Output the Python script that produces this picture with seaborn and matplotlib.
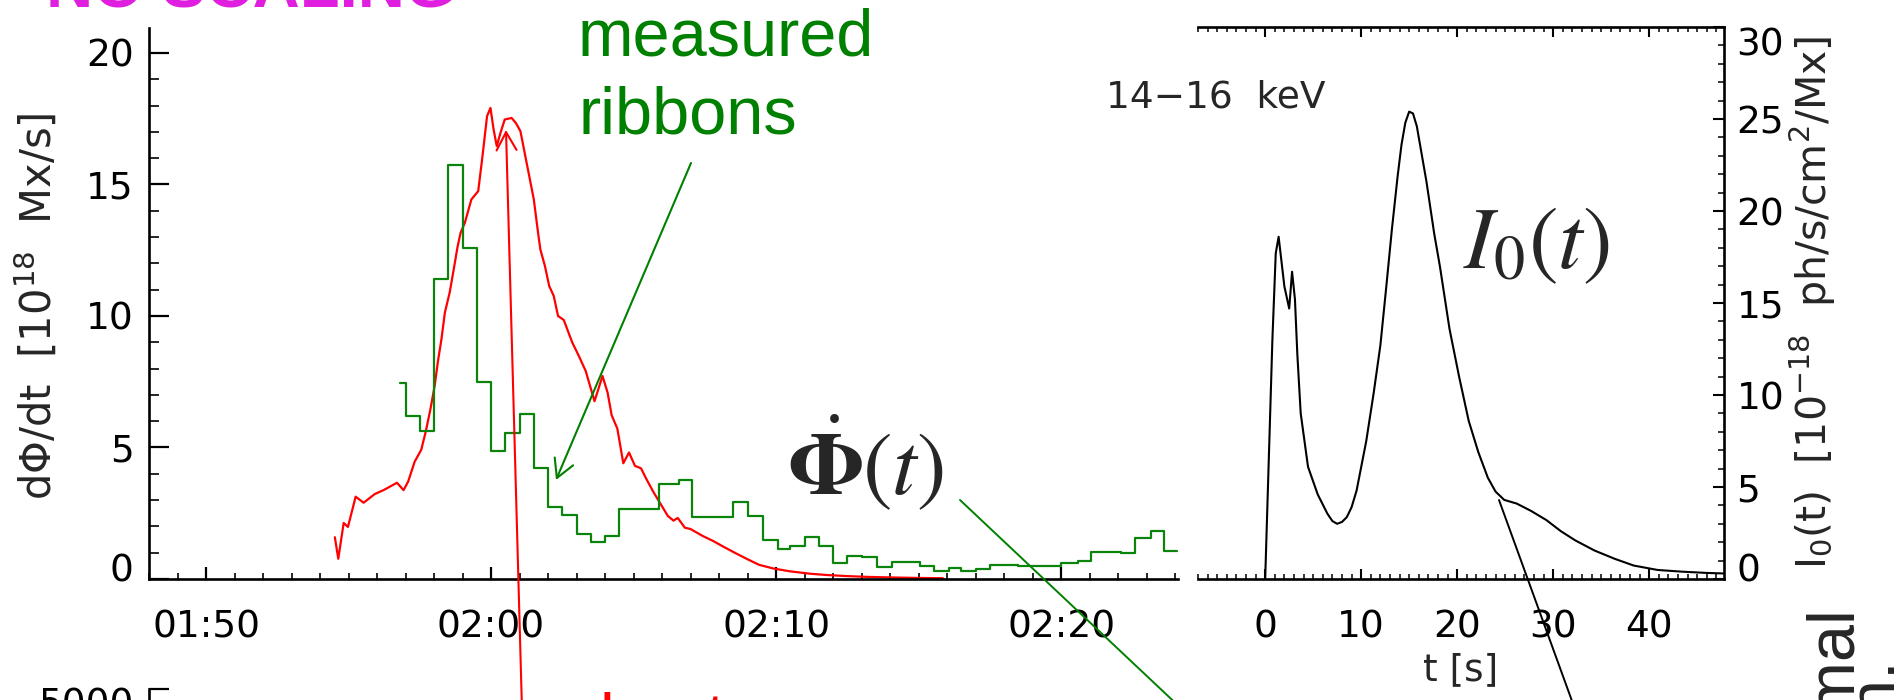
import matplotlib
matplotlib.use("Agg")
import matplotlib.pyplot as plt
import seaborn as sns
import numpy as np
import pandas as pd
from matplotlib.ticker import MultipleLocator, FixedLocator, NullLocator
from matplotlib.patches import FancyArrowPatch
from matplotlib.lines import Line2D
from matplotlib.transforms import ScaledTranslation

# ---------------- data ----------------
# left panel, time in minutes after 01:50 UT
flux_time = [4.52, 4.64, 4.83, 4.98, 5.25, 5.53, 5.92, 6.23, 6.70, 6.93, 7.09, 7.32, 7.55,
             7.71, 7.87, 8.02, 8.14, 8.26, 8.38, 8.55, 8.69, 8.82, 8.93, 9.08, 9.31, 9.55,
             9.70, 9.86, 9.98, 10.09, 10.20, 10.33, 10.48, 10.72, 10.87, 11.03, 11.18, 11.34,
             11.50, 11.65, 11.73, 11.89, 12.04, 12.20, 12.35, 12.55, 12.85, 13.08, 13.32,
             13.63, 13.91, 14.09, 14.23, 14.43, 14.64, 14.84, 15.05, 15.26, 15.45, 15.70,
             15.95, 16.20, 16.40, 16.55, 16.80, 17.00, 17.40, 17.80, 18.20, 18.60, 19.00,
             19.40, 19.90, 20.50, 21.20, 21.80, 22.50, 23.20, 24.00, 25.00, 25.85]
flux_rate = [1.59, 0.77, 2.13, 1.98, 3.13, 2.90, 3.23, 3.38, 3.66, 3.38, 3.70, 4.46, 4.91,
             5.61, 6.44, 7.33, 8.30, 9.12, 10.13, 10.90, 11.77, 12.60, 13.16, 13.54, 14.43, 14.75,
             16.08, 17.60, 17.91, 17.09, 16.46, 16.96, 17.47, 17.53, 17.34, 17.03, 16.20, 15.32,
             14.43, 13.16, 12.53, 11.90, 11.14, 10.76, 10.00, 9.85, 8.99, 8.48, 7.91,
             6.76, 7.72, 7.08, 6.23, 5.72, 4.40, 4.81, 4.30, 4.21, 3.80, 3.30,
             2.85, 2.40, 2.22, 2.32, 1.95, 1.90, 1.65, 1.44, 1.20, 0.97, 0.75,
             0.54, 0.40, 0.29, 0.20, 0.15, 0.11, 0.08, 0.06, 0.04, 0.03]

ribbon_edges = [6.8, 7.0, 7.5, 8.0, 8.5, 9.0, 9.5, 10.0, 10.5, 11.0, 11.5, 12.0, 12.5, 13.0,
                13.5, 14.0, 14.5, 15.9, 16.6, 17.05, 18.5, 19.0, 19.55, 20.05, 20.5, 21.0,
                21.5, 22.0, 22.5, 23.0, 23.55, 24.05, 25.05, 25.55, 26.05, 26.5, 27.0, 27.5,
                28.5, 30.0, 30.6, 31.05, 32.1, 32.6, 33.15, 33.6, 34.05]
ribbon_rate = [7.44, 6.21, 5.61, 11.39, 15.76, 12.59, 7.49, 4.87, 5.55, 6.29, 4.23, 2.74,
               2.42, 1.72, 1.40, 1.62, 2.68, 3.60, 3.78, 2.36, 2.92, 2.38, 1.48, 1.14, 1.27,
               1.61, 1.27, 0.59, 0.88, 0.83, 0.46, 0.64, 0.49, 0.32, 0.42, 0.32, 0.37, 0.54,
               0.49, 0.59, 0.68, 1.02, 0.97, 1.56, 1.82, 1.05]

time_ticks = [0, 10, 20, 30]
time_labels = ["01:50", "02:00", "02:10", "02:20"]
flux_ticks = [0, 5, 10, 15, 20]

# right panel
hxr_t = [0.0, 0.75, 1.1, 1.4, 2.0, 2.5, 2.8, 3.1, 3.35, 3.7, 4.46, 5.47, 6.48, 7.0, 7.49,
         8.0, 8.5, 9.0, 9.52, 10.53, 11.3, 12.0, 12.6, 13.2, 13.8, 14.2, 14.6, 15.0, 15.4,
         15.8, 16.2, 16.8, 17.6, 18.2, 19.2, 20.2, 21.2, 22.2, 23.2, 24.0, 24.9, 26.2,
         27.7, 29.3, 30.8, 32.3, 34.3, 36.4, 38.4, 40.9, 43.4, 46.0, 47.8]
hxr_I0 = [0.0, 13.0, 17.7, 18.6, 15.9, 14.7, 16.7, 15.2, 12.2, 9.0, 6.1, 4.6, 3.55, 3.15, 3.0,
          3.1, 3.36, 3.9, 4.8, 7.5, 10.1, 12.7, 15.8, 19.0, 21.9, 23.6, 24.8, 25.4, 25.3,
          24.6, 23.4, 21.6, 18.8, 17.0, 13.6, 11.0, 8.6, 6.9, 5.5, 4.75, 4.3, 4.1,
          3.7, 3.2, 2.6, 2.1, 1.55, 1.1, 0.73, 0.49, 0.40, 0.33, 0.30]
t_ticks = [0, 10, 20, 30, 40]
hxr_ticks = [0, 5, 10, 15, 20, 25, 30]

# ---------------- style ----------------
sns.set_theme(style="ticks")
plt.rcParams["font.family"] = ["DejaVu Sans"]
plt.rcParams["mathtext.fontset"] = "dejavusans"

W, H = 1894, 700
fig = plt.figure(figsize=(W / 100, H / 100), dpi=100)
fig.patch.set_facecolor("white")


def box(l, t, r, b):
    return [l / W, 1 - b / H, (r - l) / W, (b - t) / H]


def fp(x, y):
    return (x / W, 1 - y / H)


ax1 = fig.add_axes(box(149, 28, 1178, 579))
ax2 = fig.add_axes(box(1198, 27, 1724, 579))
ax3 = fig.add_axes(box(149, 689, 1178, 1240))
for ax in (ax1, ax2, ax3):
    ax.patch.set_visible(False)

RED = "#ff0000"
GREEN = "#0a840a"
LW = 1.6

# ---- left panel ----
sns.lineplot(x=flux_time, y=flux_rate, ax=ax1, color=RED, lw=LW, estimator=None, sort=False)
sns.lineplot(x=ribbon_edges, y=ribbon_rate + [ribbon_rate[-1]], ax=ax1, color=GREEN, lw=LW,
             estimator=None, sort=False, drawstyle="steps-post")
ax1.set_xlim(-2.0, 34.1)
ax1.set_ylim(0, 20.95)
ax1.xaxis.set_major_locator(FixedLocator(time_ticks))
ax1.set_xticklabels(time_labels)
ax1.xaxis.set_minor_locator(MultipleLocator(1))
ax1.yaxis.set_major_locator(FixedLocator(flux_ticks))
ax1.yaxis.set_minor_locator(MultipleLocator(1))
ax1.set_xlabel("")
ax1.set_ylabel("")
for s in ("top", "right"):
    ax1.spines[s].set_visible(False)
for s in ("left", "bottom"):
    ax1.spines[s].set_linewidth(1.9)
    ax1.spines[s].set_color("black")
ax1.tick_params(axis="y", which="major", direction="in", length=14.4, width=1.6,
                labelsize=27, pad=11, left=True, right=False, colors="black")
ax1.tick_params(axis="y", which="minor", direction="in", length=7.2, width=1.4, left=True, right=False)
ax1.tick_params(axis="x", which="major", direction="in", length=8.6, width=1.6,
                labelsize=27, pad=22, bottom=True, top=False, colors="black")
ax1.tick_params(axis="x", which="minor", direction="in", length=4.3, width=1.4, bottom=True, top=False)

# ---- right panel ----
sns.lineplot(x=hxr_t, y=hxr_I0, ax=ax2, color="black", lw=1.5, estimator=None, sort=False)
ax2.set_xlim(-7.0, 47.8)
ax2.set_ylim(0, 30)
ax2.xaxis.set_major_locator(FixedLocator(t_ticks))
ax2.xaxis.set_minor_locator(MultipleLocator(1))
ax2.yaxis.set_major_locator(FixedLocator(hxr_ticks))
ax2.yaxis.set_minor_locator(MultipleLocator(1))
ax2.set_xlabel("")
ax2.set_ylabel("")
ax2.spines["left"].set_visible(False)
for s in ("top", "bottom", "right"):
    ax2.spines[s].set_linewidth(1.9)
    ax2.spines[s].set_color("black")
ax2.yaxis.tick_right()
ax2.tick_params(axis="y", which="major", direction="in", length=8, width=1.5, labelsize=27,
                pad=9, left=False, right=True, labelleft=False, labelright=True, colors="black")
ax2.tick_params(axis="y", which="minor", direction="in", length=4.3, width=1.3, left=False, right=True)
ax2.tick_params(axis="x", which="major", direction="in", length=7, width=1.5, labelsize=27,
                pad=22, bottom=True, top=True, labeltop=False, colors="black")
ax2.tick_params(axis="x", which="minor", direction="in", length=3.6, width=1.3, bottom=True, top=True)

# ---- lower panel (only its top edge is visible) ----
ax3.set_xlim(-2.0, 34.1)
ax3.set_ylim(0, 5000)
ax3.yaxis.set_major_locator(FixedLocator([5000]))
ax3.yaxis.set_minor_locator(NullLocator())
ax3.xaxis.set_major_locator(NullLocator())
for s in ("top", "right", "bottom"):
    ax3.spines[s].set_visible(False)
ax3.spines["left"].set_linewidth(1.9)
ax3.spines["left"].set_color("black")
ax3.tick_params(axis="y", direction="in", length=14.4, width=1.6, labelsize=27, pad=11,
                colors="black")

# ---- axis labels ----
fig.text(*fp(37, 306), r"d$\Phi$/dt  [10$^{18}$  Mx/s]", rotation=90, fontsize=30,
         ha="center", va="center")
fig.text(*fp(1813, 302), r"I$_{\mathrm{0}}$(t)  [10$^{-18}$  ph/s/cm$^{2}$/Mx]", rotation=90,
         fontsize=29.5, ha="center", va="center")
fig.text(*fp(1461, 670), "t [s]", fontsize=27, ha="center", va="center")
fig.text(*fp(1106, 107), "14\u221216  keV", fontsize=27, ha="left", va="baseline")

# ---- slide annotations ----
SANS = ["Liberation Sans", "DejaVu Sans"]
fig.text(*fp(46, 8), "NO SCALING", color="#e01ee0", fontsize=47, fontweight="bold",
         family=SANS, ha="left", va="baseline")
fig.text(*fp(578, 55), "measured", color="#008000", fontsize=48, family=SANS,
         ha="left", va="baseline")
fig.text(*fp(578, 133), "ribbons", color="#008000", fontsize=48, family=SANS,
         ha="left", va="baseline")
fig.text(*fp(788, 494), r"$\dot{\mathbf{\Phi}}(t)$", fontsize=64, math_fontfamily="stix",
         ha="left", va="baseline")
fig.text(*fp(1463, 268), r"$I_0(t)$", fontsize=64, math_fontfamily="stix",
         ha="left", va="baseline")
fig.text(*fp(600, 740), "best", color=RED, fontsize=48, family=SANS, ha="left", va="baseline")
fig.text(*fp(1850, 604), "non-thermal", fontsize=48, family=SANS, rotation=90,
         rotation_mode="anchor", ha="right", va="baseline")
fig.text(*fp(1893, 657), "emission.", fontsize=48, family=SANS, rotation=90,
         rotation_mode="anchor", ha="right", va="baseline")

# arrows and pointer lines
fig.add_artist(FancyArrowPatch(fp(522, 710), fp(506, 130), arrowstyle="->,head_length=0.65,head_width=0.36",
                               mutation_scale=20, color=RED, lw=1.5, shrinkA=0, shrinkB=0))
fig.add_artist(FancyArrowPatch(fp(691, 163), fp(556, 480), arrowstyle="->,head_length=0.65,head_width=0.36",
                               mutation_scale=20, color="#008000", lw=1.5, shrinkA=0, shrinkB=0))
gx = [960 / W, 1185 / W]
gy = [1 - 500 / H, 1 - 712 / H]
fig.add_artist(Line2D(gx, gy, color="#008000", lw=1.4))
bx = [1499 / W, 1576 / W]
by = [1 - 500 / H, 1 - 712 / H]
fig.add_artist(Line2D(bx, by, color="black", lw=1.4))

# IDL-style nudge of the end tick labels inward
fig.canvas.draw()


def nudge(tick_label, dy_px):
    tick_label.set_transform(tick_label.get_transform()
                             + ScaledTranslation(0, dy_px / 100, fig.dpi_scale_trans))


nudge(ax1.yaxis.get_major_ticks()[0].label1, 12)
nudge(ax2.yaxis.get_major_ticks()[0].label2, 12)
nudge(ax2.yaxis.get_major_ticks()[-1].label2, -14)
nudge(ax3.yaxis.get_major_ticks()[0].label1, -12)

fig.savefig("out.png", dpi=100, facecolor="white")
